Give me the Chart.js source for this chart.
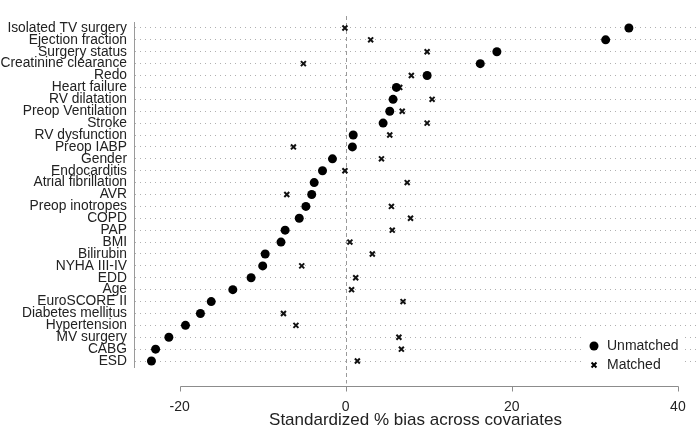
<!DOCTYPE html>
<html>
<head>
<meta charset="utf-8">
<script src="https://cdn.jsdelivr.net/npm/chart.js@4.4.1/dist/chart.umd.min.js"></script>
<style>
  body { margin: 0; background: #fff; }
  #wrap { width: 699px; height: 433px; }
</style>
</head>
<body>
<div id="wrap"><canvas id="biasChart"></canvas></div>
<script>
// covariates, top to bottom
const categories = [
    'Isolated TV surgery', 'Ejection fraction', 'Surgery status', 'Creatinine clearance',
    'Redo', 'Heart failure', 'RV dilatation', 'Preop Ventilation', 'Stroke',
    'RV dysfunction', 'Preop IABP', 'Gender', 'Endocarditis', 'Atrial fibrillation',
    'AVR', 'Preop inotropes', 'COPD', 'PAP', 'BMI', 'Bilirubin', 'NYHA III-IV',
    'EDD', 'Age', 'EuroSCORE II', 'Diabetes mellitus', 'Hypertension',
    'MV surgery', 'CABG', 'ESD'
];

// standardized % bias
const unmatched = [
    34.1, 31.3, 18.2, 16.2, 9.8, 6.1, 5.7, 5.3, 4.5,
    0.9, 0.8, -1.6, -2.8, -3.8, -4.1, -4.8, -5.6, -7.3, -7.8, -9.7, -10.0,
    -11.4, -13.6, -16.2, -17.5, -19.3, -21.3, -22.9, -23.4
];
const matched = [
    -0.1, 3.0, 9.8, -5.1, 7.9, 6.5, 10.4, 6.8, 9.8,
    5.3, -6.3, 4.3, -0.1, 7.4, -7.1, 5.5, 7.8, 5.6, 0.5, 3.2, -5.3,
    1.2, 0.7, 6.9, -7.5, -6.0, 6.4, 6.7, 1.4
];

const xTicks = [-20, 0, 20, 40];
const xTitle = 'Standardized % bias across covariates';

Chart.defaults.font.family = "'Liberation Sans', Arial, sans-serif";
Chart.defaults.color = '#222';

const AXIS_GAP = 19;

// zero reference line, offset x axis line and the inner legend
const decorPlugin = {
    id: 'decor',
    beforeDatasetsDraw(chart) {
        const ctx = chart.ctx;
        const area = chart.chartArea;
        const xs = chart.scales.x;
        const x0 = Math.round(xs.getPixelForValue(0)) + 0.5;
        const yAxis = Math.round(area.bottom + AXIS_GAP) + 0.5;
        ctx.save();
        ctx.strokeStyle = '#9a9a9a';
        ctx.lineWidth = 1;
        ctx.setLineDash([4, 3]);
        ctx.beginPath();
        ctx.moveTo(x0, area.top - 6);
        ctx.lineTo(x0, yAxis - 3);
        ctx.stroke();

        // x axis line spanning the first to the last tick, below the plot
        ctx.setLineDash([]);
        ctx.strokeStyle = '#8c8c8c';
        ctx.beginPath();
        ctx.moveTo(Math.round(xs.getPixelForValue(xTicks[0])) + 0.5, yAxis);
        ctx.lineTo(Math.round(xs.getPixelForValue(xTicks[xTicks.length - 1])) + 0.5, yAxis);
        ctx.stroke();
        xTicks.forEach(v => {
            const px = Math.round(xs.getPixelForValue(v)) + 0.5;
            ctx.beginPath();
            ctx.moveTo(px, yAxis);
            ctx.lineTo(px, yAxis + 5);
            ctx.stroke();
        });
        ctx.restore();
    },
    afterDraw(chart) {
        const ctx = chart.ctx;
        const area = chart.chartArea;

        // legend, on a white box over the grid
        const lx = area.right - 103;
        let ly = area.bottom - 21;
        ctx.save();
        ctx.fillStyle = '#fff';
        ctx.fillRect(lx - 9, ly - 10, 98, 39);
        ctx.font = "14px 'Liberation Sans', Arial, sans-serif";
        ctx.textBaseline = 'middle';
        chart.data.datasets.forEach(ds => {
            ctx.fillStyle = '#000';
            ctx.strokeStyle = '#000';
            if (ds.pointStyle === 'circle') {
                ctx.beginPath();
                ctx.arc(lx, ly, ds.pointRadius, 0, Math.PI * 2);
                ctx.fill();
            } else {
                const r = ds.pointRadius;
                ctx.lineWidth = ds.borderWidth;
                ctx.beginPath();
                ctx.moveTo(lx - r * 0.7, ly - r * 0.7);
                ctx.lineTo(lx + r * 0.7, ly + r * 0.7);
                ctx.moveTo(lx - r * 0.7, ly + r * 0.7);
                ctx.lineTo(lx + r * 0.7, ly - r * 0.7);
                ctx.stroke();
            }
            ctx.fillStyle = '#222';
            ctx.fillText(ds.label, lx + 13, ly);
            ly += 19;
        });
        ctx.restore();
    }
};

const ctx = document.getElementById('biasChart').getContext('2d');

new Chart(ctx, {
    type: 'scatter',
    data: {
        datasets: [
            {
                label: 'Unmatched',
                data: categories.map((c, i) => ({ x: unmatched[i], y: c })),
                pointStyle: 'circle',
                pointRadius: 4.5,
                backgroundColor: '#000',
                borderColor: '#000',
                borderWidth: 0
            },
            {
                label: 'Matched',
                data: categories.map((c, i) => ({ x: matched[i], y: c })),
                pointStyle: 'crossRot',
                pointRadius: 3.5,
                backgroundColor: '#000',
                borderColor: '#111',
                borderWidth: 2
            }
        ]
    },
    options: {
        responsive: true,
        maintainAspectRatio: false,
        animation: false,
        layout: { autoPadding: false, padding: { top: 22, right: 2, left: 0, bottom: 2 } },
        plugins: {
            legend: { display: false },
            tooltip: { enabled: false }
        },
        scales: {
            x: {
                type: 'linear',
                min: -25.5,
                max: 42.3,
                afterBuildTicks: scale => {
                    scale.ticks = xTicks.map(v => ({ value: v }));
                },
                afterFit: scale => { scale.height = 64; },
                // invisible tick marks only push the labels down
                grid: {
                    display: true,
                    drawOnChartArea: false,
                    drawTicks: true,
                    tickLength: 32,
                    color: 'rgba(0,0,0,0)'
                },
                border: { display: false },
                ticks: { font: { size: 14 }, padding: 0, color: '#222' },
                title: {
                    display: true,
                    text: xTitle,
                    font: { size: 17 },
                    color: '#222',
                    padding: { top: 0, bottom: 0 }
                }
            },
            y: {
                type: 'category',
                labels: categories,
                offset: true,
                afterFit: scale => { scale.width = 134; },
                grid: {
                    offset: false,
                    drawTicks: false,
                    color: '#b0b0b0',
                    lineWidth: 1
                },
                // border.dash styles the dotted grid rows
                border: { display: true, color: '#9a9a9a', dash: [1, 4] },
                ticks: {
                    autoSkip: false,
                    padding: 7,
                    font: { size: 13.8 },
                    color: '#222'
                }
            }
        }
    },
    plugins: [decorPlugin]
});
</script>
</body>
</html>
